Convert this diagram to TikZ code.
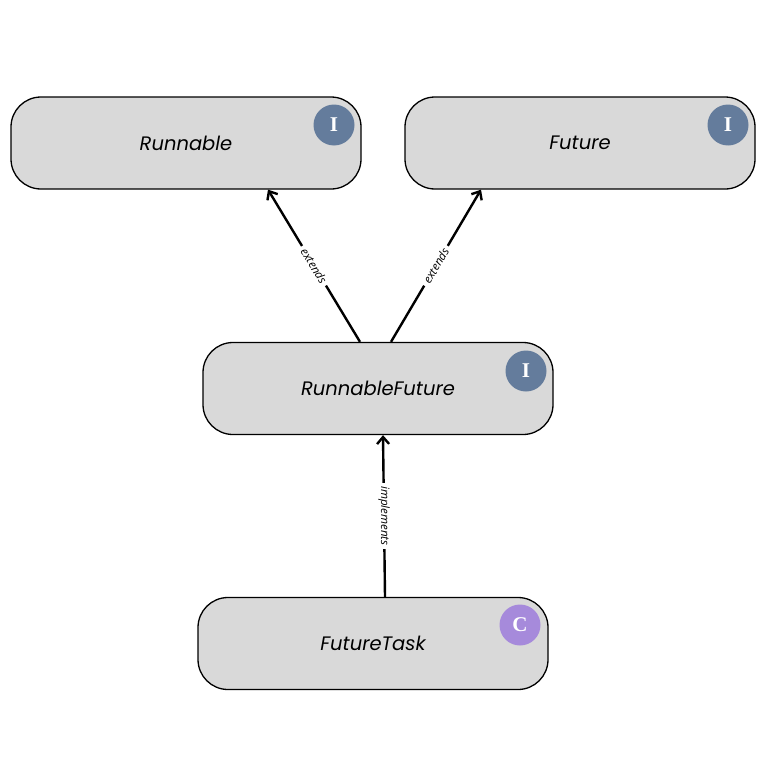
\documentclass[tikz,border=0pt]{standalone}
\usepackage{fontspec}
\setmainfont{Poppins}
\newfontfamily\badgefont{Liberation Serif}
\newfontfamily\labelfont{Open Sans}
\usetikzlibrary{arrows.meta}
\definecolor{boxfill}{HTML}{D9D9D9}
\definecolor{ibadge}{HTML}{647C9C}
\definecolor{cbadge}{HTML}{A68ADB}
\tikzset{
  classbox/.style={draw=black, line width=1.3pt, fill=boxfill, rounded corners=30pt,
    minimum width=350pt, minimum height=92pt, inner sep=0pt,
    font=\fontsize{19.5}{21}\selectfont\itshape},
  badge/.style={circle, minimum size=41pt, inner sep=0pt, text=white,
    font=\badgefont\bfseries\fontsize{21}{22}\selectfont},
  rel/.style={line width=2.4pt, -{Straight Barb[length=7pt,width=12pt,line width=2.4pt]}},
  rellabel/.style={fill=white, inner sep=3.5pt, font=\labelfont\fontsize{11.5}{13}\selectfont\itshape}
}
\begin{document}
\begin{tikzpicture}[x=1pt,y=-1pt]
\useasboundingbox[fill=white] (0,0) rectangle (768,768);
\node[classbox] (runnable) at (186,143) {Runnable};
\node[classbox] (future) at (580,143) {Future};
\node[classbox] (rf) at (378,388.5) {RunnableFuture};
\node[classbox] (ft) at (373,643.5) {FutureTask};
\node[badge, fill=ibadge] (b1) at (334,125) {I};
\node[badge, fill=ibadge] (b2) at (728,125) {I};
\node[badge, fill=ibadge] (b3) at (526,371) {I};
\node[badge, fill=cbadge] (b4) at (520,625) {C};
\draw[rel] ([xshift=-18pt]rf.north) -- node[rellabel, rotate=-58.8] {extends} ([xshift=82pt]runnable.south);
\draw[rel] ([xshift=13pt]rf.north) -- node[rellabel, rotate=59.4] {extends} ([xshift=-99pt]future.south);
\draw[rel] ([xshift=12pt]ft.north) -- node[rellabel, rotate=-90] {implements} ([xshift=5pt]rf.south);
\end{tikzpicture}
\end{document}
